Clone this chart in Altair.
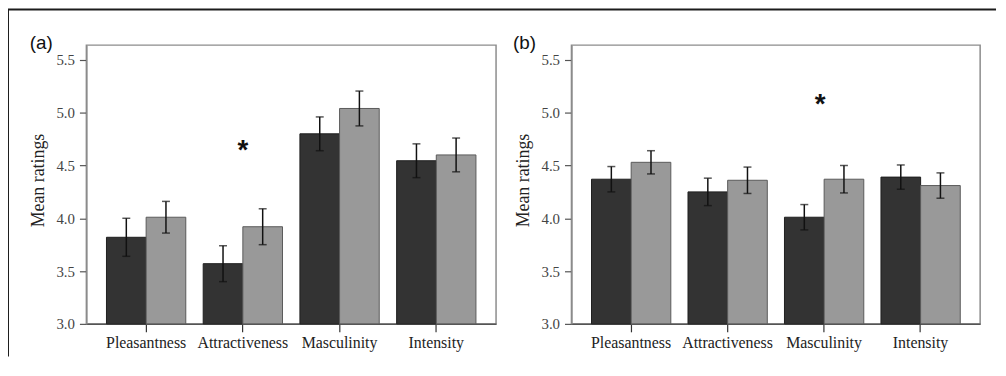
import altair as alt
import pandas as pd

categories = ["Pleasantness", "Attractiveness", "Masculinity", "Intensity"]
groups = ["Group 1", "Group 2"]

a_dark = [3.82, 3.57, 4.80, 4.545]
a_dark_err = [0.18, 0.17, 0.16, 0.16]
a_light = [4.01, 3.92, 5.04, 4.60]
a_light_err = [0.15, 0.17, 0.165, 0.16]

b_dark = [4.37, 4.25, 4.01, 4.39]
b_dark_err = [0.12, 0.13, 0.12, 0.115]
b_light = [4.53, 4.36, 4.37, 4.31]
b_light_err = [0.11, 0.125, 0.13, 0.12]

a_star_cat = "Attractiveness"
a_star_y = 4.685
b_star_cat = "Masculinity"
b_star_y = 5.12

y_ticks = [3.0, 3.5, 4.0, 4.5, 5.0, 5.5]
y_domain = [3.0, 5.64]
fill_colors = ["#333333", "#999999"]
stroke_colors = ["#1e1e1e", "#5a5a5a"]

SERIF = "Liberation Serif"
SANS = "Liberation Sans"


def build_df(dark, dark_err, light, light_err):
    rows = []
    for i, c in enumerate(categories):
        for g, m, e in ((groups[0], dark[i], dark_err[i]), (groups[1], light[i], light_err[i])):
            rows.append({"cat": c, "grp": g, "mean": m, "lo": m - e, "hi": m + e})
    return pd.DataFrame(rows)


def panel(df, label, star_cat, star_y, label_x, star_dx=0, border=False):
    xaxis = alt.Axis(title=None, labelAngle=0, tickSize=8, labelFont=SERIF, labelFontSize=16,
                     labelColor="#222", tickColor="#333", tickWidth=1.2, domainColor="#555",
                     domainWidth=1.5, labelPadding=3)
    xscale = alt.Scale(paddingInner=0.18, paddingOuter=0.208)
    x = alt.X("cat:N", sort=categories, scale=xscale, axis=xaxis)
    xo = alt.XOffset("grp:N", sort=groups, scale=alt.Scale(paddingInner=0, paddingOuter=0))
    yscale = alt.Scale(domain=y_domain, nice=False, zero=False)
    yaxis = alt.Axis(values=y_ticks, format=".1f", title="Mean ratings",
                     labelFont=SERIF, labelFontSize=15, labelColor="#444",
                     tickColor="#555", tickSize=7, tickWidth=1.2, domainColor="#8c8c8c",
                     domainWidth=1.5, labelPadding=5,
                     titleFont=SERIF, titleFontSize=18, titleFontWeight="normal",
                     titleColor="#222", titleX=-48, titleY=136, titleBaseline="middle",
                     titleAlign="center")
    base = alt.Chart(df)
    bars = base.mark_bar(strokeWidth=1).encode(
        x=x, xOffset=xo,
        y=alt.Y("mean:Q", scale=yscale, axis=yaxis),
        y2=alt.datum(y_domain[0]),
        color=alt.Color("grp:N", scale=alt.Scale(domain=groups, range=fill_colors), legend=None),
        stroke=alt.Stroke("grp:N", scale=alt.Scale(domain=groups, range=stroke_colors), legend=None),
    )
    rule = base.mark_rule(color="#111111", strokeWidth=1.5).encode(
        x=x, xOffset=xo, y=alt.Y("lo:Q", scale=yscale, axis=yaxis), y2="hi:Q")
    cap_hi = base.mark_tick(color="#111111", thickness=1.5, size=8).encode(
        x=x, xOffset=xo, y=alt.Y("hi:Q", scale=yscale, axis=yaxis))
    cap_lo = base.mark_tick(color="#111111", thickness=1.5, size=8).encode(
        x=x, xOffset=xo, y=alt.Y("lo:Q", scale=yscale, axis=yaxis))
    star = alt.Chart(pd.DataFrame({"cat": [star_cat], "y": [star_y], "t": ["*"]})).mark_text(
        font=SANS, fontSize=28, fontWeight="bold", baseline="alphabetic", dy=13, dx=star_dx,
        color="#111111").encode(
        x=x, y=alt.Y("y:Q", scale=yscale, axis=yaxis), text="t:N")
    lab = alt.Chart(pd.DataFrame({"t": [label]})).mark_text(
        font=SANS, fontSize=19, align="left", baseline="middle", color="#111111").encode(
        x=alt.value(label_x), y=alt.value(-2), text="t:N")
    layers = [bars, rule, cap_hi, cap_lo, star, lab]
    if border:
        one = pd.DataFrame({"t": [0]})
        hline = alt.Chart(one).mark_rule(color="#1c1c1c", strokeWidth=2).encode(
            x=alt.value(-79), x2=alt.value(917), y=alt.value(-36))
        vline = alt.Chart(one).mark_rule(color="#1c1c1c", strokeWidth=2).encode(
            x=alt.value(-79), y=alt.value(-36), y2=alt.value(314))
        layers += [hline, vline]
    return alt.layer(*layers)


df_a = build_df(a_dark, a_dark_err, a_light, a_light_err)
df_b = build_df(b_dark, b_dark_err, b_light, b_light_err)

pa = panel(df_a, "(a)", a_star_cat, a_star_y, -57, border=True).properties(width=413, height=281)
pb = panel(df_b, "(b)", b_star_cat, b_star_y, -59, star_dx=-4).properties(width=412, height=281)

chart = alt.hconcat(pa, pb, spacing=76, bounds="flush").properties(
    padding={"left": -2, "top": -2, "right": 0, "bottom": 0},
    background="white",
).configure_view(
    stroke="#8c8c8c", strokeWidth=1.5
).configure_axis(
    grid=False, labelFont=SERIF, titleFont=SERIF, titleFontWeight="normal"
)

chart.save("out.html", embed_options={"renderer": "svg", "actions": False})
